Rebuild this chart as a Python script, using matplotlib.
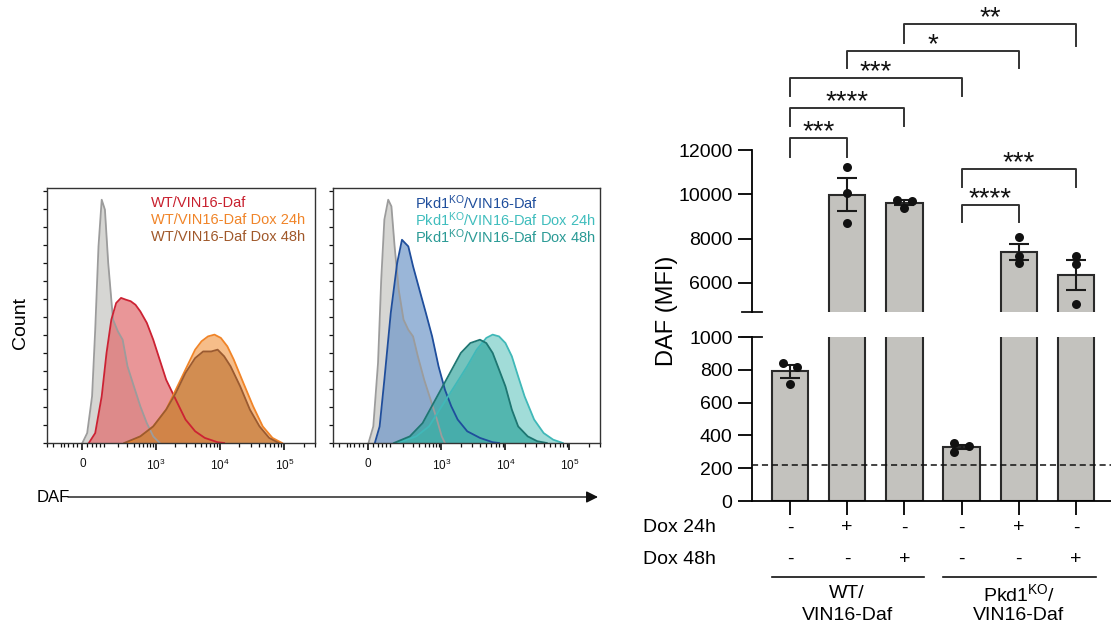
import numpy as np
import matplotlib
matplotlib.use('Agg')
import matplotlib.pyplot as plt
from matplotlib.transforms import blended_transform_factory, offset_copy

plt.rcParams['font.family'] = ['Liberation Sans', 'DejaVu Sans']
plt.rcParams['mathtext.fontset'] = 'custom'
plt.rcParams['mathtext.rm'] = 'Liberation Sans'
plt.rcParams['mathtext.it'] = 'Liberation Sans:italic'
plt.rcParams['mathtext.bf'] = 'Liberation Sans:bold'

# ---------------------------------------------------------------- data
# Flow histograms: x in display decades (3 = 10^3, 4 = 10^4, 5 = 10^5, 1.857 = 0),
# y = count normalised to panel height
wt_unst_x = [1.857, 1.932, 2.008, 2.057, 2.108, 2.158, 2.208, 2.259, 2.334, 2.409, 2.484,
             2.559, 2.659, 2.759, 2.860, 2.960, 3.060]
wt_unst_y = [0, 0.039, 0.183, 0.444, 0.771, 0.954, 0.915, 0.706, 0.484, 0.438, 0.405,
             0.301, 0.222, 0.144, 0.078, 0.026, 0]
wt_daf_x = [1.958, 2.057, 2.158, 2.233, 2.308, 2.383, 2.459, 2.534, 2.609, 2.684, 2.759,
            2.860, 2.960, 3.060, 3.161, 3.261, 3.361, 3.462, 3.612, 3.762, 3.962, 4.063]
wt_daf_y = [0, 0.039, 0.183, 0.353, 0.484, 0.549, 0.569, 0.562, 0.556, 0.542, 0.516,
            0.471, 0.405, 0.327, 0.248, 0.196, 0.144, 0.092, 0.046, 0.020, 0.003, 0]
wt_dox24_x = [2.559, 2.759, 2.960, 3.161, 3.311, 3.462, 3.612, 3.712, 3.812, 3.913, 4.012,
              4.113, 4.213, 4.363, 4.514, 4.664, 4.815, 4.965]
wt_dox24_y = [0, 0.026, 0.065, 0.131, 0.209, 0.288, 0.366, 0.399, 0.418, 0.425, 0.412,
              0.379, 0.327, 0.235, 0.144, 0.065, 0.020, 0]
wt_dox48_x = [2.508, 2.759, 2.960, 3.161, 3.311, 3.462, 3.612, 3.737, 3.862, 3.962, 4.063,
              4.163, 4.313, 4.464, 4.614, 4.764, 4.915]
wt_dox48_y = [0, 0.026, 0.065, 0.131, 0.196, 0.275, 0.333, 0.359, 0.359, 0.366, 0.340,
              0.301, 0.222, 0.131, 0.065, 0.020, 0]

ko_unst_x = [1.861, 1.936, 2.010, 2.060, 2.109, 2.169, 2.219, 2.269, 2.333, 2.408, 2.483,
             2.557, 2.632, 2.731, 2.831, 2.930, 3.005, 3.055]
ko_unst_y = [0, 0.065, 0.314, 0.641, 0.876, 0.954, 0.928, 0.771, 0.601, 0.484, 0.444,
             0.418, 0.340, 0.248, 0.170, 0.092, 0.026, 0]
ko_daf_x = [1.960, 2.035, 2.109, 2.209, 2.309, 2.384, 2.433, 2.483, 2.557, 2.657, 2.757,
            2.855, 2.955, 3.055, 3.154, 3.254, 3.403, 3.602, 3.801, 3.900]
ko_daf_y = [0, 0.065, 0.248, 0.510, 0.706, 0.797, 0.784, 0.771, 0.693, 0.601, 0.510,
            0.418, 0.301, 0.209, 0.144, 0.092, 0.046, 0.020, 0.003, 0]
ko_dox24_x = [2.309, 2.607, 2.806, 3.005, 3.204, 3.403, 3.552, 3.701, 3.801, 3.900, 4.000,
              4.100, 4.199, 4.299, 4.448, 4.597, 4.746, 4.896]
ko_dox24_y = [0, 0.026, 0.065, 0.144, 0.222, 0.301, 0.366, 0.412, 0.425, 0.418, 0.392,
              0.340, 0.261, 0.183, 0.092, 0.039, 0.013, 0]
ko_dox48_x = [2.258, 2.507, 2.706, 2.906, 3.104, 3.303, 3.452, 3.602, 3.701, 3.801, 3.900,
              4.000, 4.100, 4.199, 4.348, 4.497, 4.646]
ko_dox48_y = [0, 0.026, 0.078, 0.170, 0.261, 0.353, 0.392, 0.405, 0.392, 0.353, 0.288,
              0.222, 0.131, 0.065, 0.026, 0.007, 0]

hist_tick_pos = [1.857, 3, 4, 5]
hist_tick_labels = ['0', '$10^3$', '$10^4$', '$10^5$']

wt_legend = ['WT/VIN16-Daf', 'WT/VIN16-Daf Dox 24h', 'WT/VIN16-Daf Dox 48h']
ko_legend = [r'Pkd1$^{\mathrm{KO}}$/VIN16-Daf', r'Pkd1$^{\mathrm{KO}}$/VIN16-Daf Dox 24h',
             r'Pkd1$^{\mathrm{KO}}$/VIN16-Daf Dox 48h']

# Bar chart: DAF MFI per replicate
mfi_wt = [840, 819, 713]
mfi_wt_dox24 = [11218, 10043, 8687]
mfi_wt_dox48 = [9740, 9709, 9392]
mfi_ko = [352, 335, 301]
mfi_ko_dox24 = [8082, 7209, 6878]
mfi_ko_dox48 = [7209, 6847, 5026]
dox24 = ['-', '+', '-', '-', '+', '-']
dox48 = ['-', '-', '+', '-', '-', '+']
background_mfi = 220
sig_pairs = [(0, 1), (0, 2), (0, 3), (1, 4), (2, 5), (3, 4), (3, 5)]
sig_labels = ['***', '****', '***', '*', '**', '****', '***']

# ---------------------------------------------------------------- layout
W, H = 1111, 628
fig = plt.figure(figsize=(W / 100, H / 100), dpi=100)


def fx(px):
    return px / W


def fy(py):
    return 1 - py / H


def biex(v):
    return 1.857 + 1.143 * np.arcsinh(np.asarray(v) / 100.0) / np.arcsinh(10.0)


minor_lin = [-200, -150, -100, -80, -60, -40, -20, 20, 40, 60, 80, 100, 200, 300, 400,
             500, 600, 700, 800, 900]
minor_log = [k + np.log10(n) for k in (3, 4) for n in range(2, 10)] + [5 + np.log10(2), 5 + np.log10(3)]
minor_ticks = list(biex(minor_lin)) + minor_log


def hist_panel(rect, series, legend, legend_colors, legend_x):
    ax = fig.add_axes(rect)
    for x, y, fc, ec, a in series:
        ax.fill_between(x, 0, y, color=fc, alpha=a, lw=0)
        ax.plot(x, y, color=ec, lw=1.3)
    ax.set_xlim(1.36, 5.38)
    ax.set_ylim(0, 1.0)
    ax.set_xticks(hist_tick_pos)
    ax.set_xticklabels(hist_tick_labels, fontsize=8.5)
    ax.set_xticks(minor_ticks, minor=True)
    ax.set_yticks(np.linspace(0, 0.987, 15))
    ax.set_yticklabels([])
    ax.tick_params(axis='x', which='major', length=5, width=1.2, pad=6, colors='#111')
    ax.tick_params(axis='x', which='minor', length=3, width=0.9, colors='#111')
    ax.tick_params(axis='y', length=3, width=0.9, colors='#111')
    for s in ax.spines.values():
        s.set_linewidth(1.0)
        s.set_color('#333')
    for i, (t, c) in enumerate(zip(legend, legend_colors)):
        fig.text(fx(legend_x), fy(203 + 17 * i), t, color=c, fontsize=10.5,
                 ha='left', va='center')
    return ax


hist_panel([fx(47), fy(443), fx(268), 255 / H],
           [(wt_unst_x, wt_unst_y, '#c9c9c5', '#9c9c9c', 0.75),
            (wt_daf_x, wt_daf_y, '#e06a6c', '#cc2233', 0.70),
            (wt_dox24_x, wt_dox24_y, '#f3a257', '#f08428', 0.70),
            (wt_dox48_x, wt_dox48_y, '#c4793a', '#9a5a30', 0.70)],
           wt_legend, ['#c8202e', '#f08428', '#a0582a'], 151)

hist_panel([fx(333), fy(443), fx(267), 255 / H],
           [(ko_unst_x, ko_unst_y, '#c9c9c5', '#9c9c9c', 0.75),
            (ko_daf_x, ko_daf_y, '#6f97c8', '#1f4e9c', 0.70),
            (ko_dox24_x, ko_dox24_y, '#6fcac4', '#40b8b8', 0.65),
            (ko_dox48_x, ko_dox48_y, '#2aa39a', '#1e7672', 0.65)],
           ko_legend, ['#1f4e9c', '#3fbdbd', '#2a9a95'], 415)

fig.text(fx(20), fy(323), 'Count', rotation=90, fontsize=14, ha='center', va='center')
fig.text(fx(37), fy(497), 'DAF', fontsize=12, ha='left', va='center')
fig.add_artist(matplotlib.patches.FancyArrowPatch(
    (fx(68), fy(497)), (fx(598), fy(497)), transform=fig.transFigure,
    arrowstyle='-|>,head_length=7,head_width=3.5', color='#111', lw=1.0,
    shrinkA=0, shrinkB=0))

# ---------------------------------------------------------------- bar chart
reps = [mfi_wt, mfi_wt_dox24, mfi_wt_dox48, mfi_ko, mfi_ko_dox24, mfi_ko_dox48]
means = [np.mean(r) for r in reps]
sems = [np.std(r, ddof=1) / np.sqrt(len(r)) for r in reps]
xpos = np.arange(len(reps))
jitter = [[-0.13, 0.12, 0], [0, 0, 0], [-0.13, 0.13, 0], [-0.13, 0.13, -0.13],
          [0, 0, 0], [0, 0, 0]]

ax_top = fig.add_axes([fx(752), fy(312), fx(359), 312 / H])
ax_bot = fig.add_axes([fx(752), fy(501), fx(359), 164 / H])
top_lo, top_hi = 4678, 18780

for ax in (ax_top, ax_bot):
    ax.bar(xpos, means, width=0.64, color='#c3c2be', edgecolor='#2a2a2a', lw=1.5, zorder=2)
    ax.errorbar(xpos, means, yerr=sems, fmt='none', ecolor='#1a1a1a', elinewidth=1.5,
                capsize=7, capthick=1.5, zorder=3)
    for i, r in enumerate(reps):
        ax.scatter(xpos[i] + np.array(jitter[i]), r, s=42, color='#111', zorder=4, lw=0)
    ax.set_xlim(-0.663, 5.61)
    ax.spines['right'].set_visible(False)
    ax.spines['top'].set_visible(False)
    ax.spines['left'].set_linewidth(1.3)
    ax.spines['bottom'].set_linewidth(1.3)
    ax.tick_params(axis='y', length=10, width=1.3, labelsize=14, pad=4)

ax_top.set_ylim(top_lo, top_hi)
ax_top.spines['left'].set_bounds(top_lo, 12000)
ax_top.spines['bottom'].set_visible(False)
ax_top.set_yticks([6000, 8000, 10000, 12000])
ax_top.set_xticks([])
ax_top.patch.set_alpha(0)

ax_bot.set_ylim(0, 1000)
ax_bot.set_yticks([0, 200, 400, 600, 800, 1000])
ax_bot.set_xticks(xpos)
ax_bot.set_xticklabels([])
ax_bot.tick_params(axis='x', length=10, width=1.3)
ax_bot.axhline(background_mfi, color='#111', lw=1.1, ls=(0, (4, 2.5)), zorder=5, clip_on=False)

# axis-break markers
brk_t = blended_transform_factory(fig.transFigure, ax_top.transData)
ax_top.plot([fx(742), fx(762)], [top_lo, top_lo], transform=brk_t, color='#111', lw=1.3,
            clip_on=False)
brk_b = blended_transform_factory(fig.transFigure, ax_bot.transData)
ax_bot.plot([fx(742), fx(762)], [1000, 1000], transform=brk_b, color='#111', lw=1.3,
            clip_on=False)

fig.text(fx(667), fy(311), 'DAF (MFI)', rotation=90, fontsize=17, ha='center', va='center')

# significance brackets
br_y = [12529, 13885, 15241, 16475, 17682, 9514, 11141]
br_drop = [(845, 845), (800, 800), (800, 800), (770, 770), (830, 980), (760, 760), (800, 800)]
for (a, b), lab, y, (dl, dr) in zip(sig_pairs, sig_labels, br_y, br_drop):
    ax_top.plot([a, a, b, b], [y - dl, y, y, y - dr], color='#333', lw=1.4, clip_on=False,
                zorder=6)
    tt = offset_copy(ax_top.transData, fig=fig, x=0, y=-1, units='points')
    ax_top.text((a + b) / 2, y, lab, transform=tt, ha='center', va='baseline',
                fontsize=20, color='#111', clip_on=False)

# treatment rows
row_t = blended_transform_factory(ax_bot.transData, fig.transFigure)
for label, vals, py in (('Dox 24h', dox24, 528), ('Dox 48h', dox48, 559)):
    fig.text(fx(643), fy(py), label, fontsize=14, ha='left', va='center')
    for xi, v in zip(xpos, vals):
        ax_bot.text(xi, fy(py), v, transform=row_t, fontsize=14, ha='center', va='center')

for x0, x1, l1, l2 in ((0, 2, 'WT/', 'VIN16-Daf'),
                       (3, 5, r'Pkd1$^{\mathrm{KO}}$/', 'VIN16-Daf')):
    ax_bot.plot([x0 - 0.32, x1 + 0.34], [fy(577), fy(577)], transform=row_t, color='#111',
                lw=1.2, clip_on=False)
    ax_bot.text((x0 + x1) / 2, fy(594), l1, transform=row_t, fontsize=14, ha='center', va='center')
    ax_bot.text((x0 + x1) / 2, fy(616), l2, transform=row_t, fontsize=14, ha='center', va='center')

fig.savefig('out.png', dpi=100)
